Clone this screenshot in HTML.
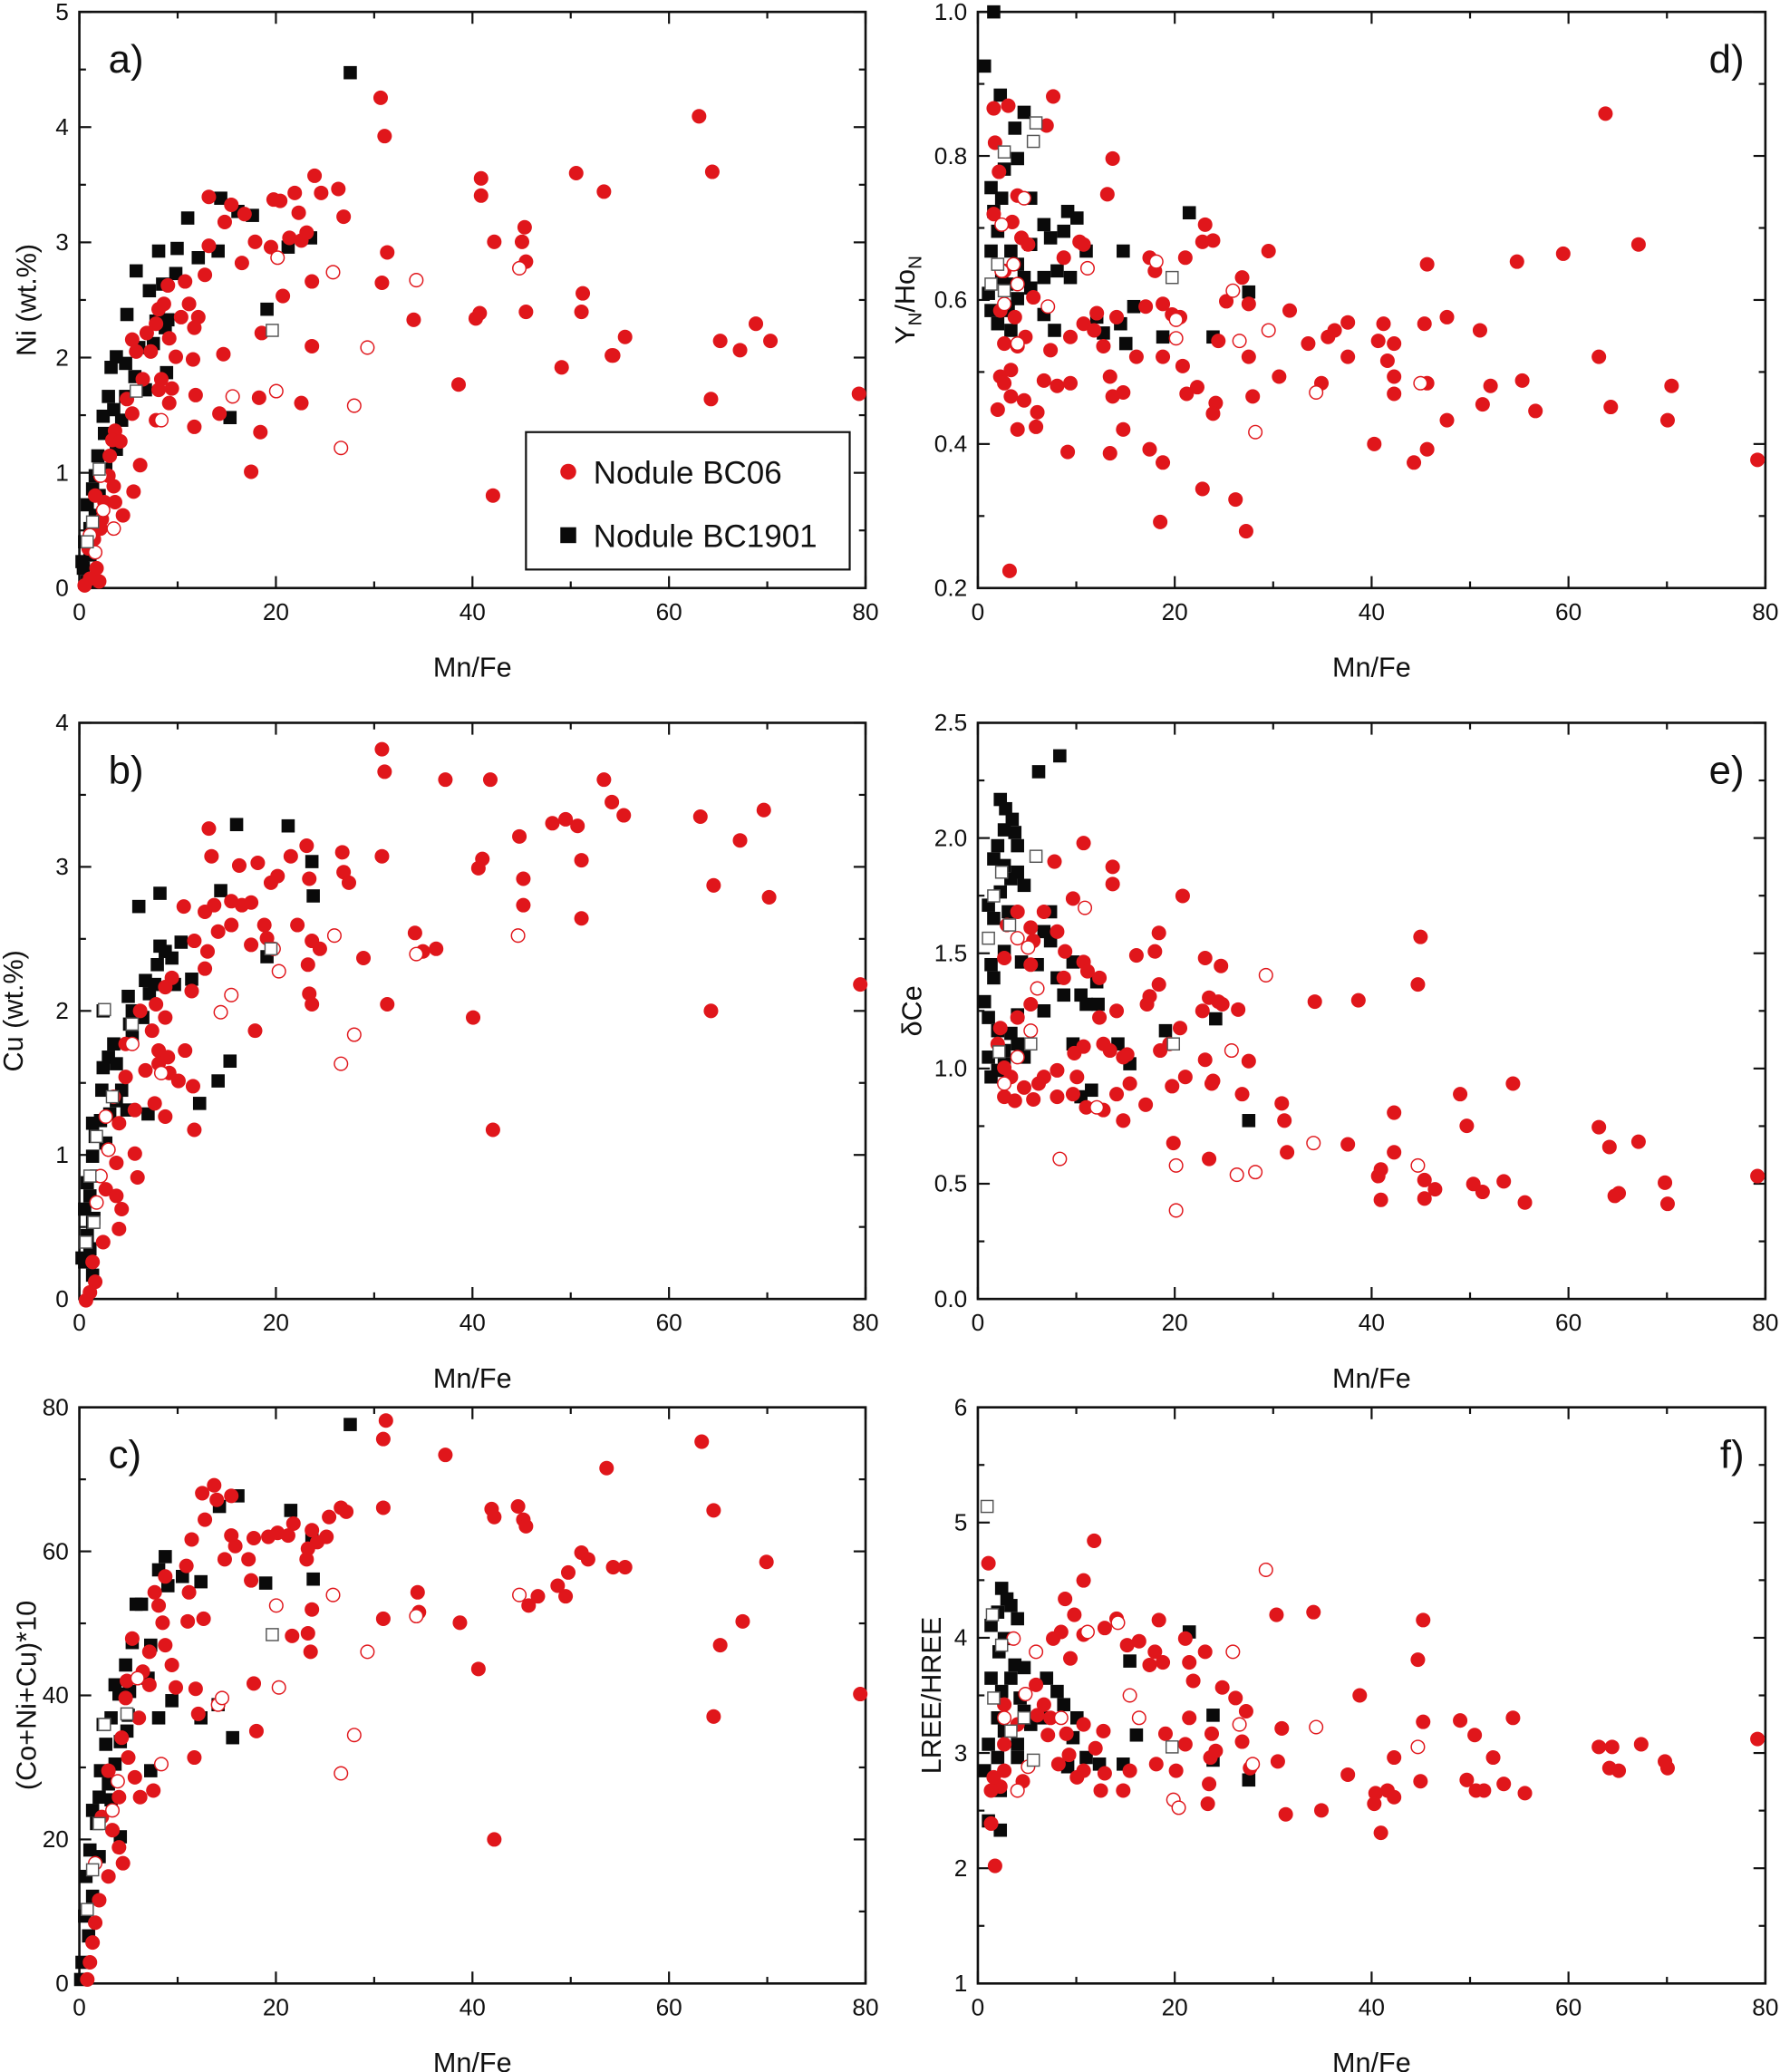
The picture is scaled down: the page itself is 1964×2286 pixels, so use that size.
<!DOCTYPE html>
<html><head><meta charset="utf-8"><style>
html,body{margin:0;padding:0;background:#fff}
svg{display:block}
text{font-family:"Liberation Sans",sans-serif;fill:#111}
</style></head><body>
<svg id="s" width="1964" height="2286" viewBox="0 0 1347 1568" xmlns="http://www.w3.org/2000/svg">
<g id="g"></g>
</svg>
<script>
var NS="http://www.w3.org/2000/svg",G=document.getElementById("g");
function el(t,a,txt){var e=document.createElementNS(NS,t);for(var k in a)e.setAttribute(k,a[k]);if(txt!==undefined)e.textContent=txt;G.appendChild(e);return e;}
function panel(x0,x1,y0,y1,ymin,ymax,ystep,ydec,letter,lx,ylab,ylx,xbold){
 el("rect",{x:x0,y:y0,width:x1-x0,height:y1-y0,fill:"none",stroke:"#111","stroke-width":1.8});
 var xs=(x1-x0)/80;
 for(var v=0;v<=80;v+=10){var px=x0+v*xs,L=v%20==0?9:5;
  el("line",{x1:px,y1:y1,x2:px,y2:y1-L,stroke:"#111","stroke-width":1.5});
  el("line",{x1:px,y1:y0,x2:px,y2:y0+L,stroke:"#111","stroke-width":1.5});
  if(v%20==0)el("text",{x:px,y:y1+24,"font-size":18,"text-anchor":"middle"},String(v));}
 var n=Math.round((ymax-ymin)/ystep);
 for(var i=0;i<=2*n;i++){var v=ymin+i*ystep/2,py=y1-(v-ymin)/(ymax-ymin)*(y1-y0),L=i%2==0?9:5;
  el("line",{x1:x0,y1:py,x2:x0+L,y2:py,stroke:"#111","stroke-width":1.5});
  el("line",{x1:x1,y1:py,x2:x1-L,y2:py,stroke:"#111","stroke-width":1.5});
  if(i%2==0)el("text",{x:x0-8,y:py+6,"font-size":18,"text-anchor":"end"},v.toFixed(ydec));}
 el("text",{x:lx,y:y0+46,"font-size":30,"text-anchor":lx>x0+100?"end":"start"},letter);
 el("text",{x:(x0+x1)/2,y:y1+67,"font-size":21,"text-anchor":"middle"},"Mn/Fe");
 var t=el("text",{x:ylx,y:(y0+y1)/2,"font-size":21,"text-anchor":"middle",transform:"rotate(-90 "+ylx+" "+(y0+y1)/2+")"});
 t.innerHTML=ylab;
}
panel(60,655,9,445,0,5,1,0,"a)",82,"Ni (wt.%)",27);
panel(740,1336,9,445,0.2,1.0,0.2,1,"d)",1320,"Y<tspan font-size='14' dy='5'>N</tspan><tspan dy='-5'>/Ho</tspan><tspan font-size='14' dy='5'>N</tspan>",692);
panel(60,655,547,983,0,4,1,0,"b)",82,"Cu (wt.%)",17);
panel(740,1336,547,983,0,2.5,0.5,1,"e)",1320,"δCe",697);
panel(60,655,1065,1501,0,80,20,0,"c)",82,"(Co+Ni+Cu)*10",27);
panel(740,1336,1065,1501,1,6,1,0,"f)",1320,"LREE/HREE",712);
var R="#e0161b";
function P(s){var a=s.match(/-?\d+/g).map(Number),r=[];for(var i=0;i<a.length;i+=2)r.push([a[i],a[i+1]]);return r;}
function fc(s){P(s).forEach(function(p){el("circle",{cx:p[0],cy:p[1],r:5.5,fill:R});});}
function oc(s){P(s).forEach(function(p){el("circle",{cx:p[0],cy:p[1],r:5,fill:"#fff",stroke:R,"stroke-width":1});});}
function fs(s){P(s).forEach(function(p){el("rect",{x:p[0]-5,y:p[1]-5,width:10,height:10,fill:"#0a0a0a"});});}
function os(s){P(s).forEach(function(p){el("rect",{x:p[0]-4.5,y:p[1]-4.5,width:9,height:9,fill:"#fff",stroke:"#555","stroke-width":1});});}
/* a */
fs("(265,55),(167,150),(142,165),(180,160),(191,163),(134,188),(150,195),(165,190),(120,190),(103,205),(133,207),(123,215),(113,220),(127,242),(96,238),(118,243),(125,248),(105,263),(116,260),(88,270),(95,275),(102,285),(84,278),(126,282),(110,295),(82,300),(95,300),(86,310),(78,315),(92,318),(79,328),(74,345),(88,340),(80,355),(72,360),(70,370),(75,375),(66,382),(72,390),(68,400),(64,410),(68,420),(63,430),(66,440),(174,316),(235,180),(218,187),(202,234),(62,425)");
fc("(529,88),(288,74),(291,103),(539,130),(364,148),(436,131),(238,133),(457,145),(256,143),(223,146),(243,146),(364,135),(226,161),(260,164),(207,151),(212,152),(158,149),(175,155),(185,162),(170,168),(232,176),(219,180),(228,182),(293,191),(397,172),(374,183),(395,183),(398,198),(158,186),(193,183),(205,187),(236,213),(289,214),(183,199),(236,262),(155,208),(140,213),(127,216),(124,230),(120,234),(118,245),(143,230),(150,240),(137,240),(147,248),(128,256),(111,252),(100,257),(103,266),(114,266),(133,270),(146,272),(169,268),(198,252),(214,224),(313,242),(360,241),(363,237),(398,236),(440,236),(441,222),(473,255),(463,269),(425,278),(572,245),(545,258),(560,265),(583,258),(464,269),(347,291),(122,287),(108,287),(120,295),(130,294),(148,299),(128,305),(96,302),(100,313),(87,326),(118,318),(147,323),(228,305),(196,301),(166,313),(197,327),(85,333),(91,334),(106,352),(82,360),(101,372),(190,357),(373,375),(538,302),(650,298),(86,368),(79,380),(87,380),(93,390),(77,393),(76,400),(71,408),(67,415),(73,430),(68,438),(75,440),(64,443),(83,345),(72,375)");
oc("(210,195),(252,206),(315,212),(393,203),(176,300),(209,296),(268,307),(278,263),(258,339),(122,318),(76,360),(78,386),(86,400),(68,405),(72,418)");
os("(206,250),(103,296),(75,355),(70,395),(66,410)");
/* legend */
el("rect",{x:398,y:327,width:245,height:104,fill:"#fff",stroke:"#111","stroke-width":1.5});
el("circle",{cx:430,cy:357,r:6,fill:R});el("text",{x:449,y:366,"font-size":24},"Nodule BC06");
el("rect",{x:424,y:399,width:12,height:12,fill:"#0a0a0a"});el("text",{x:449,y:414,"font-size":24},"Nodule BC1901");
/* d */
fs("(752,9),(745,50),(757,72),(775,85),(768,97),(770,120),(760,128),(750,142),(780,150),(758,150),(752,160),(755,175),(750,190),(765,190),(770,200),(780,185),(790,170),(795,180),(805,175),(808,160),(815,165),(822,190),(800,205),(790,210),(810,210),(850,190),(848,245),(858,232),(830,240),(835,252),(852,260),(880,255),(900,161),(918,255),(945,221),(755,245),(763,235),(770,226),(780,218),(758,210),(748,222),(750,235),(765,250),(790,238),(798,250),(775,210),(762,215)");
fc("(797,73),(752,82),(753,108),(763,80),(792,95),(838,147),(842,120),(867,232),(817,183),(756,130),(752,162),(766,168),(770,148),(773,180),(778,185),(760,205),(757,235),(768,240),(782,225),(776,255),(795,265),(810,255),(820,245),(828,250),(835,262),(840,285),(870,195),(874,205),(880,230),(887,238),(880,270),(895,277),(897,195),(910,183),(912,170),(918,182),(928,228),(940,210),(945,230),(960,190),(976,235),(990,260),(1000,290),(1005,255),(1010,250),(1020,244),(1043,258),(1047,245),(1055,260),(1078,245),(1080,200),(1095,240),(1120,250),(1148,198),(1152,288),(1183,192),(1215,86),(1240,185),(1219,308),(1262,318),(1265,292),(1330,348),(1210,270),(1162,311),(1122,306),(1095,318),(1080,340),(1070,350),(1055,285),(1040,336),(968,285),(948,300),(1020,270),(945,270),(850,297),(850,325),(870,340),(880,350),(878,395),(910,370),(920,305),(918,313),(935,378),(943,402),(922,258),(906,293),(898,298),(860,270),(810,290),(808,342),(840,343),(842,300),(784,323),(785,312),(770,325),(775,303),(757,285),(765,280),(755,310),(760,290),(765,300),(770,262),(760,260),(790,288),(800,292),(830,237),(845,240),(893,240),(805,195),(820,185),(764,432),(1080,290),(1055,298),(1128,292),(1050,273)");
oc("(758,170),(775,150),(767,200),(770,215),(760,230),(793,232),(823,203),(875,198),(890,242),(890,256),(938,258),(933,220),(960,250),(996,297),(1075,290),(770,260),(758,205),(950,327)");
os("(784,93),(782,107),(760,115),(887,210),(755,200),(750,215),(760,220)");
/* b */
fs("(179,624),(218,625),(236,652),(167,674),(237,678),(121,676),(105,686),(121,716),(125,720),(137,713),(110,742),(113,752),(117,745),(97,754),(100,765),(108,770),(98,775),(100,785),(86,790),(82,800),(88,805),(78,808),(92,825),(77,825),(88,833),(96,840),(83,843),(112,843),(76,848),(70,850),(72,860),(80,865),(70,875),(73,890),(66,895),(68,905),(64,915),(70,925),(66,935),(68,945),(64,955),(70,965),(174,803),(165,818),(151,835),(202,724),(145,741),(132,745),(130,725),(119,730),(78,765),(71,922),(62,952)");
fc("(289,567),(291,584),(337,590),(371,590),(457,590),(463,607),(472,617),(530,618),(578,613),(560,636),(540,670),(582,679),(651,745),(538,765),(393,633),(396,665),(396,685),(440,651),(437,625),(428,620),(418,623),(365,650),(362,657),(358,770),(373,855),(293,760),(289,648),(232,640),(234,665),(260,660),(264,668),(259,645),(220,648),(210,663),(205,668),(195,653),(181,655),(183,685),(190,683),(175,682),(162,685),(155,690),(158,627),(160,648),(139,686),(147,712),(165,705),(175,700),(190,715),(200,700),(202,710),(225,700),(236,712),(242,718),(234,752),(236,760),(275,725),(157,720),(155,733),(145,750),(130,740),(125,747),(125,770),(118,760),(106,765),(115,780),(120,795),(127,800),(140,795),(146,822),(135,818),(120,805),(193,780),(117,835),(125,845),(102,840),(110,810),(95,815),(95,790),(90,850),(86,830),(82,870),(88,880),(80,900),(104,891),(90,930),(78,940),(70,955),(72,970),(68,978),(65,984),(147,855),(440,695),(314,706),(320,720),(330,718),(233,730),(128,812),(102,873),(88,905),(92,915)");
oc("(207,718),(211,735),(175,753),(167,766),(253,708),(315,722),(392,708),(268,783),(258,805),(122,812),(100,790),(80,845),(82,870),(76,890),(73,910)");
os("(79,764),(205,718),(100,775),(85,830),(73,860),(68,890),(71,925),(65,940)");
/* e */
fs("(802,572),(786,584),(757,605),(761,612),(766,620),(760,628),(768,630),(755,640),(770,640),(752,650),(760,655),(765,665),(770,660),(775,670),(757,675),(748,685),(752,695),(763,690),(795,690),(790,705),(795,712),(760,720),(750,730),(773,728),(785,730),(812,728),(805,753),(800,740),(830,743),(818,753),(831,760),(790,765),(770,768),(748,770),(755,780),(765,782),(760,795),(770,790),(775,800),(760,805),(750,815),(822,760),(812,790),(826,825),(818,830),(855,805),(846,790),(882,780),(920,771),(945,848),(752,740),(745,758),(748,800),(755,810)");
fc("(820,638),(842,656),(842,669),(798,652),(877,706),(874,720),(860,723),(877,745),(870,754),(895,678),(812,680),(790,690),(780,702),(770,690),(762,700),(782,712),(800,705),(806,720),(820,728),(823,735),(832,740),(805,740),(780,730),(760,725),(780,760),(770,770),(757,778),(755,790),(760,808),(765,815),(775,823),(790,815),(800,810),(813,797),(820,792),(835,790),(840,795),(853,798),(832,770),(845,765),(868,760),(885,790),(855,820),(867,836),(850,848),(835,840),(845,828),(815,815),(800,830),(786,820),(768,833),(760,830),(782,832),(812,828),(822,838),(850,800),(878,795),(887,822),(897,815),(893,778),(910,765),(915,755),(922,758),(925,760),(937,764),(912,725),(924,731),(912,802),(918,818),(945,803),(940,828),(970,835),(972,848),(974,872),(995,758),(1020,866),(1028,757),(1043,890),(1045,908),(1045,885),(1055,872),(1055,842),(1075,709),(1073,745),(1078,893),(1078,907),(1086,900),(1105,828),(1110,852),(1115,896),(1122,902),(1138,894),(1145,820),(1154,910),(1210,853),(1218,868),(1225,903),(1222,905),(1240,864),(1260,895),(1262,911),(1330,890),(888,865),(915,877),(917,820)");
oc("(821,687),(770,710),(778,717),(785,748),(830,838),(802,877),(890,882),(890,916),(936,889),(950,887),(958,738),(932,795),(994,865),(1073,882),(780,780),(770,800),(760,820)");
os("(784,648),(758,660),(752,678),(764,700),(748,710),(756,796),(780,790),(888,790)");
/* c */
fs("(265,1078),(166,1140),(180,1132),(220,1143),(236,1162),(201,1198),(152,1197),(138,1193),(125,1178),(120,1188),(127,1200),(103,1214),(107,1214),(100,1243),(114,1245),(95,1260),(98,1280),(112,1270),(130,1287),(120,1300),(87,1275),(90,1282),(97,1298),(96,1310),(84,1300),(91,1318),(78,1305),(80,1320),(87,1335),(76,1340),(82,1350),(75,1360),(84,1362),(70,1370),(73,1380),(91,1390),(68,1400),(75,1405),(65,1420),(70,1435),(64,1450),(67,1465),(62,1485),(61,1498),(176,1315),(165,1290),(152,1300),(114,1340),(237,1195)");
fc("(292,1075),(290,1089),(337,1101),(459,1111),(531,1091),(540,1143),(580,1182),(562,1227),(545,1245),(540,1299),(651,1282),(464,1186),(473,1186),(440,1175),(445,1180),(430,1190),(422,1200),(428,1208),(392,1140),(396,1150),(398,1155),(400,1215),(407,1208),(372,1142),(374,1148),(362,1263),(348,1228),(316,1205),(317,1220),(290,1141),(290,1225),(262,1144),(258,1141),(249,1148),(247,1163),(240,1167),(236,1158),(233,1172),(232,1180),(222,1153),(218,1162),(210,1160),(203,1163),(192,1164),(188,1180),(190,1196),(175,1162),(178,1170),(170,1180),(162,1124),(164,1135),(175,1132),(153,1130),(155,1150),(145,1165),(141,1185),(143,1205),(154,1225),(142,1227),(125,1193),(117,1205),(120,1215),(123,1228),(125,1245),(130,1260),(133,1277),(148,1278),(150,1297),(147,1330),(100,1240),(113,1250),(108,1265),(113,1275),(96,1272),(95,1285),(105,1300),(92,1315),(97,1330),(102,1345),(106,1360),(90,1360),(77,1375),(85,1385),(90,1398),(93,1410),(82,1420),(75,1438),(72,1455),(70,1470),(68,1485),(66,1498),(116,1355),(236,1218),(235,1250),(374,1392),(194,1310),(221,1238),(192,1274),(233,1236),(82,1340)");
oc("(209,1215),(211,1277),(252,1207),(278,1250),(315,1223),(393,1207),(165,1290),(168,1285),(122,1335),(104,1270),(268,1313),(258,1342),(85,1370),(72,1410),(89,1348)");
os("(206,1237),(96,1297),(79,1305),(75,1380),(70,1415),(66,1445)");
/* f */
fs("(758,1202),(762,1210),(755,1220),(765,1215),(770,1225),(750,1230),(760,1240),(756,1250),(768,1260),(750,1270),(758,1280),(765,1270),(772,1285),(775,1295),(755,1300),(760,1310),(748,1320),(755,1330),(770,1330),(745,1340),(757,1355),(775,1262),(792,1270),(800,1280),(805,1290),(815,1300),(812,1315),(808,1337),(822,1330),(832,1335),(850,1335),(860,1313),(855,1257),(900,1235),(918,1298),(918,1332),(945,1347),(748,1378),(757,1385),(790,1300),(780,1305),(770,1320)");
fc("(748,1183),(753,1412),(750,1380),(828,1166),(820,1196),(813,1222),(806,1210),(797,1240),(803,1235),(810,1255),(820,1237),(836,1232),(845,1225),(853,1245),(862,1242),(877,1226),(874,1250),(870,1260),(880,1258),(897,1240),(900,1258),(903,1272),(912,1250),(925,1277),(935,1285),(966,1222),(994,1220),(1029,1283),(1077,1303),(1105,1302),(1145,1300),(1130,1330),(1116,1313),(1077,1226),(1073,1256),(1075,1348),(1055,1330),(1041,1357),(1040,1365),(1045,1387),(1050,1355),(1055,1360),(1020,1343),(1000,1370),(973,1373),(967,1333),(970,1308),(943,1295),(940,1318),(946,1338),(914,1365),(915,1350),(916,1330),(917,1312),(920,1325),(900,1300),(897,1320),(882,1312),(890,1340),(875,1335),(855,1340),(850,1355),(833,1355),(836,1342),(829,1323),(820,1340),(815,1345),(801,1335),(793,1313),(795,1300),(785,1298),(770,1305),(760,1320),(760,1340),(757,1352),(752,1345),(774,1348),(760,1290),(784,1275),(790,1290),(807,1312),(809,1328),(1110,1347),(1117,1355),(1123,1355),(1138,1350),(1154,1357),(1210,1322),(1218,1338),(1220,1322),(1225,1340),(1242,1320),(1260,1333),(1262,1338),(1330,1316),(820,1305),(835,1310),(750,1355)");
oc("(767,1240),(784,1250),(803,1300),(823,1235),(846,1228),(855,1283),(862,1300),(933,1250),(938,1305),(948,1335),(958,1188),(996,1307),(1073,1322),(760,1300),(776,1282),(770,1355),(778,1337),(888,1362),(892,1368)");
os("(747,1140),(751,1222),(758,1245),(752,1285),(765,1310),(775,1300),(782,1332),(887,1322)");
</script>
</body></html>
